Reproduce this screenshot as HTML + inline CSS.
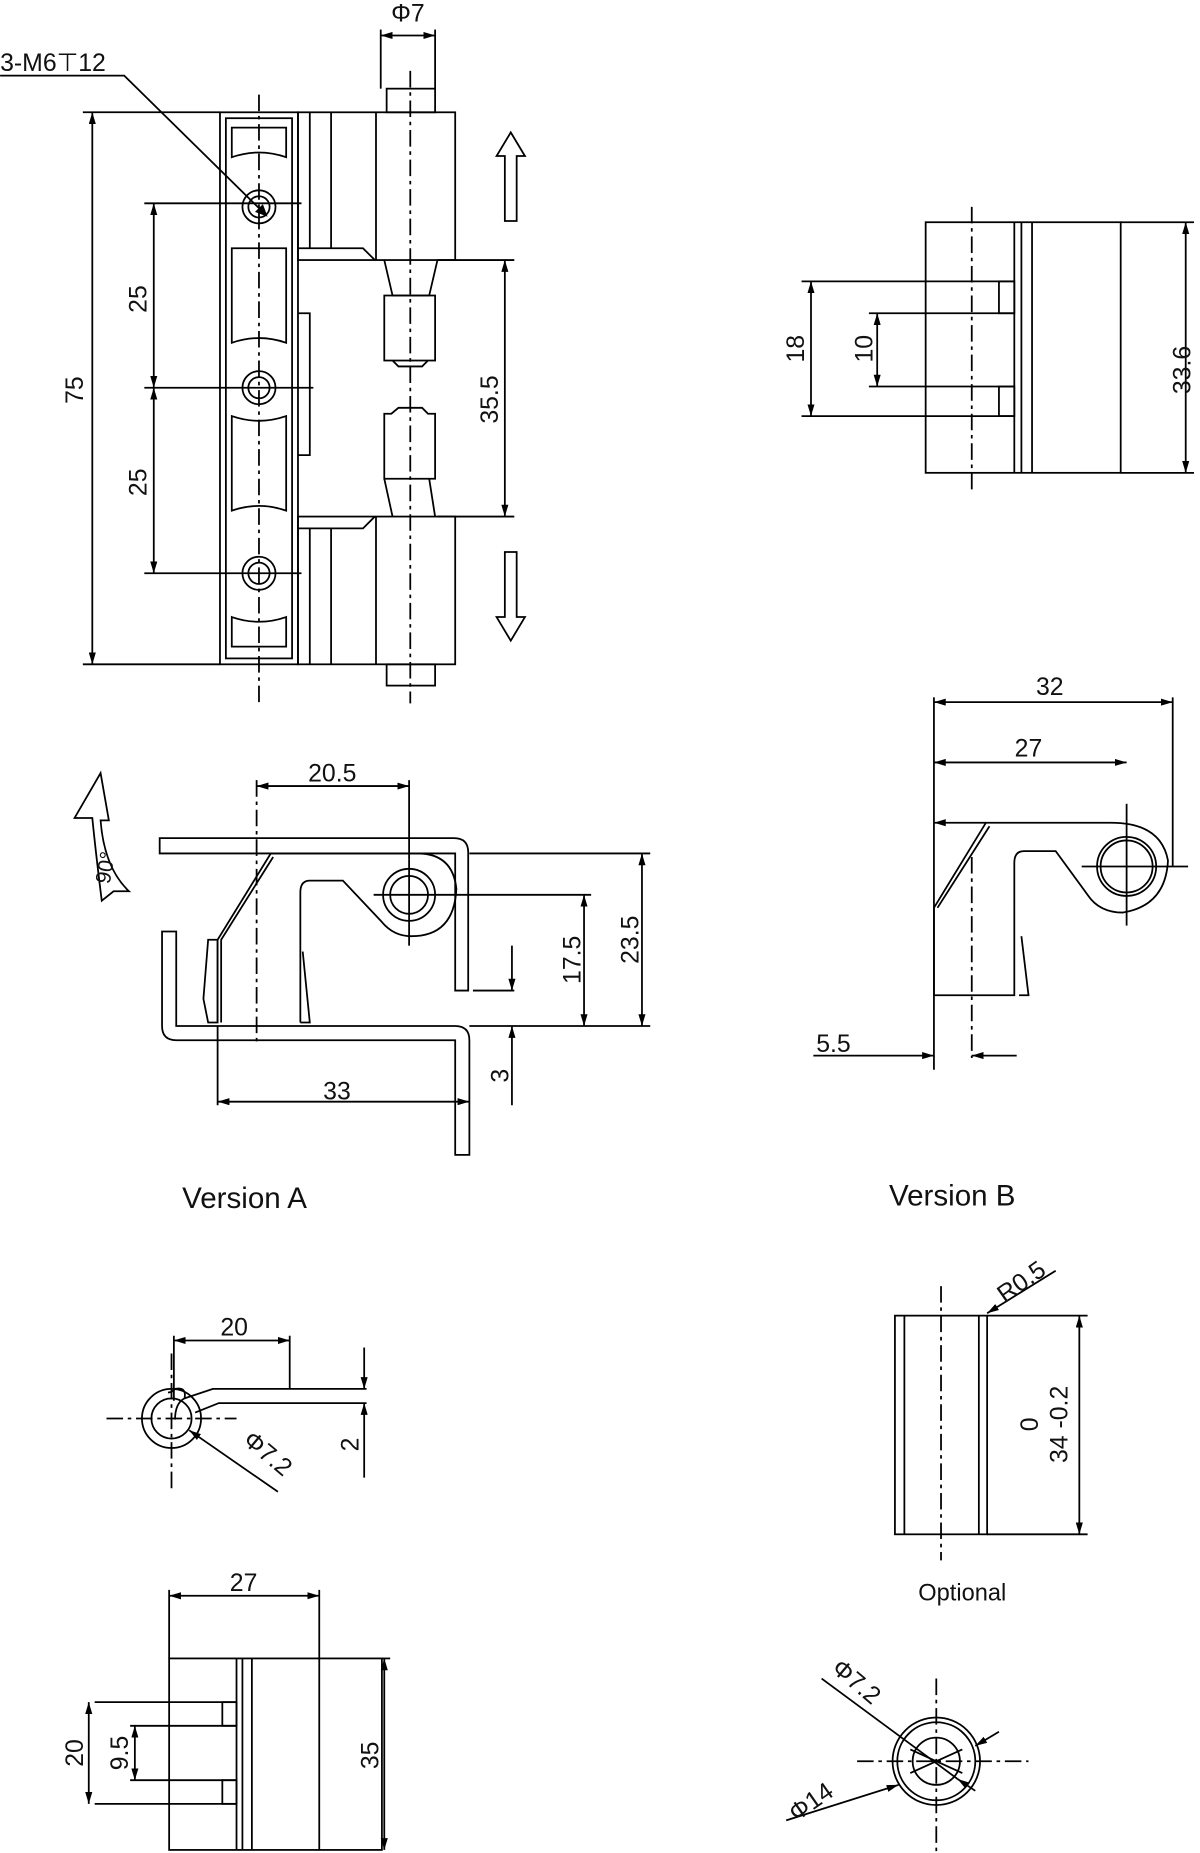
<!DOCTYPE html>
<html><head><meta charset="utf-8"><style>
html,body{margin:0;padding:0;background:#fff}
svg{display:block}
text{font-family:"Liberation Sans",sans-serif;fill:#111}
</style></head><body>
<svg width="1200" height="1853" viewBox="0 0 1015 1567.6" xmlns="http://www.w3.org/2000/svg">
<defs>
<marker id="a" viewBox="0 0 10 6" refX="10" refY="3" markerWidth="10" markerHeight="6" orient="auto-start-reverse" markerUnits="userSpaceOnUse"><path d="M0,0L10,3L0,6z" fill="#000"/></marker>
</defs>
<g fill="none" stroke="#000" stroke-width="1.5">
<rect x="186" y="95" width="66" height="467"/>
<rect x="191" y="100" width="56" height="457"/>
<path d="M196,108 h46 v25 q-23,-8 -46,0z M196,210 h46 v80 q-23,-8 -46,0z M196,352 q23,8 46,0 v80 q-23,-8 -46,0z M196,522 q23,8 46,0 v25 h-46z"/>
<circle cx="219" cy="175" r="14"/><circle cx="219" cy="175" r="9"/>
<circle cx="219" cy="328" r="14"/><circle cx="219" cy="328" r="9"/>
<circle cx="219" cy="485" r="14"/><circle cx="219" cy="485" r="9"/>
<path d="M252,265 h10 v120 h-10"/>
<rect x="252" y="95" width="133" height="125"/>
<line x1="262" y1="95" x2="262" y2="210"/><line x1="280" y1="95" x2="280" y2="210"/><line x1="318" y1="95" x2="318" y2="220"/>
<path d="M252,210 h55 l10,10"/>
<rect x="252" y="437" width="133" height="125"/>
<line x1="262" y1="447" x2="262" y2="562"/><line x1="280" y1="447" x2="280" y2="562"/><line x1="318" y1="437" x2="318" y2="562"/>
<path d="M252,447 h55 l10,-10"/>
<rect x="327" y="75" width="41" height="20"/>
<rect x="327" y="562" width="41" height="18"/>
<path d="M325,220 l7,30 h31 l7,-30"/>
<rect x="325" y="250" width="43" height="55"/>
<path d="M332,305 l5,5 h20 l5,-5"/>
<path d="M337,345 h20 l5,5 h6 v55 h-43 v-55 h6z"/>
<path d="M325,405 l7,32 M363,405 l5,32"/>
<line x1="347" y1="60" x2="347" y2="595" stroke-dasharray="14,4,3,4"/>
<line x1="219" y1="80" x2="219" y2="595" stroke-dasharray="14,4,3,4"/>
<line x1="70" y1="95" x2="186" y2="95"/><line x1="70" y1="562" x2="186" y2="562"/>
<line x1="78" y1="95" x2="78" y2="562" marker-start="url(#a)" marker-end="url(#a)"/>
<line x1="122" y1="172" x2="255" y2="172"/><line x1="122" y1="328" x2="265" y2="328"/><line x1="122" y1="485" x2="255" y2="485"/>
<line x1="130" y1="172" x2="130" y2="328" marker-start="url(#a)" marker-end="url(#a)"/>
<line x1="130" y1="328" x2="130" y2="485" marker-start="url(#a)" marker-end="url(#a)"/>
<line x1="370" y1="220" x2="435" y2="220"/><line x1="370" y1="437" x2="435" y2="437"/>
<line x1="427" y1="220" x2="427" y2="437" marker-start="url(#a)" marker-end="url(#a)"/>
<line x1="322" y1="25" x2="322" y2="75"/><line x1="368" y1="25" x2="368" y2="75"/>
<line x1="322" y1="30" x2="368" y2="30" marker-start="url(#a)" marker-end="url(#a)"/>
<path d="M0,64 H105 L225,182" /><path d="M225,182 l-8,-3 l5,-5z" fill="#000"/>
<path d="M427,187 v-55 h-7 l12,-20 l12,20 h-7 v55z"/>
<path d="M427,467 v55 h-7 l12,20 l12,-20 h-7 v-55z"/>

<rect x="783" y="188" width="165" height="212"/>
<line x1="948" y1="188" x2="1010" y2="188"/><line x1="948" y1="400" x2="1010" y2="400"/>
<line x1="858" y1="188" x2="858" y2="400"/><line x1="864" y1="188" x2="864" y2="400"/><line x1="873" y1="188" x2="873" y2="400"/>
<path d="M783,238 h75 M783,265 h75 M783,327 h75 M783,352 h75"/>
<rect x="845" y="238" width="13" height="27"/><rect x="845" y="327" width="13" height="25"/>
<line x1="822" y1="175" x2="822" y2="415" stroke-dasharray="14,4,3,4"/>
<line x1="1003" y1="188" x2="1003" y2="400" marker-start="url(#a)" marker-end="url(#a)"/>
<line x1="678" y1="238" x2="783" y2="238"/><line x1="678" y1="352" x2="783" y2="352"/>
<line x1="686" y1="238" x2="686" y2="352" marker-start="url(#a)" marker-end="url(#a)"/>
<line x1="735" y1="265" x2="783" y2="265"/><line x1="735" y1="327" x2="783" y2="327"/>
<line x1="742" y1="265" x2="742" y2="327" marker-start="url(#a)" marker-end="url(#a)"/>

<path d="M135,709 H384 q12,0 12,12 V838 H385 V722 H135z"/>
<path d="M137,788 h12 v80 h236 q12,0 12,12 V977 H385 V880 H149 q-12,0 -12,-12z"/>
<path d="M176,795 h8 v70 h-8 l-4,-20z"/>
<path d="M184,865 V795 l45,-73 H353 q30,0 33,30 q-2,40 -38,40 q-15,0 -25,-12 L290,745 H262 q-8,0 -8,10 V865"/>
<path d="M187,865 V795 l44,-70 M254,865 l8,0 l-6,-60"/>
<circle cx="346" cy="757" r="22"/><circle cx="346" cy="757" r="16"/>
<line x1="316" y1="757" x2="395" y2="757"/><line x1="346" y1="727" x2="346" y2="800"/>
<line x1="217" y1="660" x2="217" y2="885" stroke-dasharray="14,4,3,4"/>
<line x1="346" y1="660" x2="346" y2="727"/>
<line x1="217" y1="665" x2="346" y2="665" marker-start="url(#a)" marker-end="url(#a)"/>
<line x1="397" y1="722" x2="550" y2="722"/><line x1="397" y1="868" x2="550" y2="868"/>
<line x1="543" y1="722" x2="543" y2="868" marker-start="url(#a)" marker-end="url(#a)"/>
<line x1="395" y1="757" x2="500" y2="757"/>
<line x1="494" y1="757" x2="494" y2="868" marker-start="url(#a)" marker-end="url(#a)"/>
<line x1="400" y1="838" x2="435" y2="838"/>
<line x1="433" y1="800" x2="433" y2="838" marker-end="url(#a)"/>
<line x1="433" y1="935" x2="433" y2="868" marker-end="url(#a)"/>
<line x1="184" y1="868" x2="184" y2="935"/>
<line x1="184" y1="932" x2="397" y2="932" marker-start="url(#a)" marker-end="url(#a)"/>
<path d="M86,762 q-5,-40 -8,-70 l-15,0 l22,-38 l7,40 l-7,0 q3,40 24,60 l-13,0z"/>

<path d="M790,842 V768 l44,-72 H940 q42,0 48,32 q-2,38 -38,44 q-20,0 -30,-15 L893,720 H866 q-8,0 -8,10 V842z"/>
<path d="M793,768 l44,-69 M862,842 l8,0 l-6,-50"/>
<circle cx="953" cy="733" r="25"/><circle cx="953" cy="733" r="22"/>
<line x1="915" y1="733" x2="1005" y2="733"/><line x1="953" y1="680" x2="953" y2="783"/>
<line x1="822" y1="725" x2="822" y2="895" stroke-dasharray="14,4,3,4"/>
<line x1="790" y1="590" x2="790" y2="905"/><line x1="992" y1="590" x2="992" y2="733"/>
<line x1="790" y1="594" x2="992" y2="594" marker-start="url(#a)" marker-end="url(#a)"/>
<line x1="790" y1="645" x2="953" y2="645" marker-start="url(#a)" marker-end="url(#a)"/>
<line x1="790" y1="696" x2="834" y2="696" marker-start="url(#a)"/>
<line x1="688" y1="893" x2="790" y2="893" marker-end="url(#a)"/>
<line x1="860" y1="893" x2="822" y2="893" marker-end="url(#a)"/>

<circle cx="145" cy="1200" r="25"/><circle cx="145" cy="1200" r="17"/>
<path d="M148,1175 q10,-2 8,8 q-8,4 -8,18 M142,1178 q4,0 6,-3"/>
<path d="M156,1183 l24,-8 h130 M165,1195 l20,-8 h125"/>
<line x1="90" y1="1200" x2="200" y2="1200" stroke-dasharray="14,4,3,4"/>
<line x1="145" y1="1145" x2="145" y2="1260" stroke-dasharray="14,4,3,4"/>
<line x1="235" y1="1262" x2="160" y2="1210" marker-end="url(#a)"/>
<line x1="147" y1="1130" x2="147" y2="1185"/><line x1="245" y1="1130" x2="245" y2="1175"/>
<line x1="147" y1="1134" x2="245" y2="1134" marker-start="url(#a)" marker-end="url(#a)"/>
<line x1="308" y1="1140" x2="308" y2="1175" marker-end="url(#a)"/>
<line x1="308" y1="1250" x2="308" y2="1187" marker-end="url(#a)"/>

<rect x="143" y="1403" width="180" height="162"/>
<line x1="200" y1="1403" x2="200" y2="1565"/><line x1="205" y1="1403" x2="205" y2="1565"/><line x1="213" y1="1403" x2="213" y2="1565"/><line x1="270" y1="1403" x2="270" y2="1565"/>
<path d="M80,1440 h120 M110,1460 h90 M110,1506 h90 M80,1526 h120"/>
<rect x="188" y="1440" width="12" height="20"/><rect x="188" y="1506" width="12" height="20"/>
<line x1="143" y1="1345" x2="143" y2="1403"/><line x1="270" y1="1345" x2="270" y2="1403"/>
<line x1="143" y1="1350" x2="270" y2="1350" marker-start="url(#a)" marker-end="url(#a)"/>
<line x1="323" y1="1403" x2="330" y2="1403"/>
<line x1="325" y1="1403" x2="325" y2="1565" marker-start="url(#a)" marker-end="url(#a)"/>
<line x1="75" y1="1440" x2="75" y2="1526" marker-start="url(#a)" marker-end="url(#a)"/>
<line x1="114" y1="1460" x2="114" y2="1506" marker-start="url(#a)" marker-end="url(#a)"/>

<rect x="757" y="1113" width="78" height="185"/>
<line x1="765" y1="1113" x2="765" y2="1298"/><line x1="828" y1="1113" x2="828" y2="1298"/>
<line x1="796" y1="1088" x2="796" y2="1320" stroke-dasharray="14,4,3,4"/>
<line x1="835" y1="1113" x2="920" y2="1113"/><line x1="835" y1="1298" x2="920" y2="1298"/>
<line x1="913" y1="1113" x2="913" y2="1298" marker-start="url(#a)" marker-end="url(#a)"/>
<path d="M893,1075 L835,1111" marker-end="url(#a)"/>

<circle cx="792" cy="1490" r="37"/><circle cx="792" cy="1490" r="33"/><circle cx="792" cy="1490" r="20"/>
<line x1="725" y1="1490" x2="870" y2="1490" stroke-dasharray="14,4,3,4"/>
<line x1="792" y1="1420" x2="792" y2="1567" stroke-dasharray="14,4,3,4"/>
<line x1="695" y1="1420" x2="810" y2="1505"/><path d="M825,1515 L810,1505" marker-end="url(#a)"/>
<line x1="665" y1="1540" x2="760" y2="1510" marker-end="url(#a)"/>
<line x1="845" y1="1465" x2="825" y2="1477" marker-end="url(#a)"/>
<line x1="770" y1="1480" x2="814" y2="1500"/><line x1="770" y1="1500" x2="814" y2="1480"/>
</g>
<g font-size="21">
<text x="345" y="18" text-anchor="middle">Φ7</text>
<text x="0" y="60">3-M6⊤12</text>
<text transform="translate(70,330) rotate(-90)" text-anchor="middle">75</text>
<text transform="translate(124,253) rotate(-90)" text-anchor="middle">25</text>
<text transform="translate(124,408) rotate(-90)" text-anchor="middle">25</text>
<text transform="translate(421,338) rotate(-90)" text-anchor="middle">35.5</text>
<text transform="translate(680,295) rotate(-90)" text-anchor="middle">18</text>
<text transform="translate(738,295) rotate(-90)" text-anchor="middle">10</text>
<text transform="translate(1007,313) rotate(-90)" text-anchor="middle">33.6</text>
<text x="281" y="661" text-anchor="middle">20.5</text>
<text transform="translate(491,812) rotate(-90)" text-anchor="middle">17.5</text>
<text transform="translate(540,795) rotate(-90)" text-anchor="middle">23.5</text>
<text transform="translate(430,910) rotate(-90)" text-anchor="middle">3</text>
<text x="285" y="930" text-anchor="middle">33</text>
<text transform="translate(95,735) rotate(-80)" text-anchor="middle" font-size="18">90°</text>
<text x="888" y="588" text-anchor="middle">32</text>
<text x="870" y="640" text-anchor="middle">27</text>
<text x="705" y="890" text-anchor="middle">5.5</text>
<text x="154" y="1022" font-size="25">Version A</text>
<text x="752" y="1020" font-size="25">Version B</text>
<text x="198" y="1130" text-anchor="middle">20</text>
<text transform="translate(303,1222) rotate(-90)" text-anchor="middle">2</text>
<text transform="translate(222,1235) rotate(40)" text-anchor="middle">Φ7.2</text>
<text x="206" y="1346" text-anchor="middle">27</text>
<text transform="translate(70,1483) rotate(-90)" text-anchor="middle">20</text>
<text transform="translate(108,1483) rotate(-90)" text-anchor="middle">9.5</text>
<text transform="translate(320,1485) rotate(-90)" text-anchor="middle">35</text>
<text transform="translate(868,1090) rotate(-35)" text-anchor="middle">R0.5</text>
<text transform="translate(878,1205) rotate(-90)" text-anchor="middle">0</text>
<text transform="translate(903,1205) rotate(-90)" text-anchor="middle">34 -0.2</text>
<text x="814" y="1354" text-anchor="middle" font-size="20">Optional</text>
<text transform="translate(720,1428) rotate(40)" text-anchor="middle">Φ7.2</text>
<text transform="translate(690,1530) rotate(-35)" text-anchor="middle">Φ14</text>
</g>
</svg>
</body></html>
